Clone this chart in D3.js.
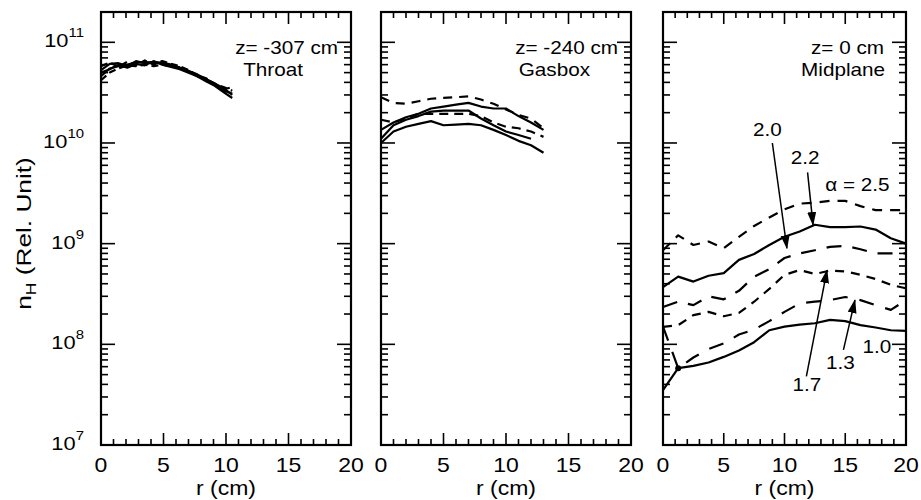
<!DOCTYPE html>
<html><head><meta charset="utf-8">
<script src="https://cdn.jsdelivr.net/npm/d3@7"></script>
<style>
body{margin:0;background:#fff}
svg{display:block}
text{font-family:"Liberation Sans",Arial,Helvetica,sans-serif;fill:#000}
</style>
</head><body>
<svg id="chart" width="921" height="500"></svg>
<script>
// ---------- DATA ----------
const xTickLabels = ["0","5","10","15","20"];
const yTickExponents = [7,8,9,10,11];
const panelTitles = [["z= -307 cm","Throat"],["z= -240 cm","Gasbox"],["z= 0 cm","Midplane"]];

// Throat (z = -307 cm)
const rThroat = [0,0.7,1.4,2.1,2.8,3.5,4.2,4.9,5.6,6.3,7.0,7.7,8.4,9.1,9.8,10.5];
const throatA = [4.6e10,5.5e10,5.8e10,6.0e10,6.3e10,6.4e10,6.2e10,6.3e10,6.0e10,5.6e10,5.2e10,4.8e10,4.3e10,3.9e10,3.5e10,3.0e10];
const throatB = [5.8e10,6.3e10,5.7e10,6.4e10,5.9e10,6.6e10,6.0e10,6.5e10,6.1e10,5.8e10,5.3e10,4.7e10,4.4e10,3.8e10,3.6e10,3.3e10];
const throatC = [5.0e10,5.4e10,6.0e10,5.6e10,6.1e10,5.9e10,6.5e10,6.0e10,5.7e10,5.4e10,5.0e10,4.6e10,4.1e10,3.7e10,3.2e10,2.8e10];
const throatD = [4.2e10,5.0e10,5.5e10,5.9e10,5.8e10,6.0e10,5.8e10,6.0e10,5.8e10,5.5e10,5.1e10,4.6e10,4.2e10,3.8e10,3.4e10,3.6e10];
const throatE = [5.3e10,6.1e10,6.2e10,5.8e10,6.5e10,6.2e10,6.4e10,6.2e10,5.9e10,5.6e10,5.2e10,4.7e10,4.3e10,3.9e10,3.3e10,3.1e10];

// Gasbox (z = -240 cm)
const rGas = [0,1,2,3,4,5,6,7,8,9,10,11,12,13];
const gasD1 = [2.85e10,2.5e10,2.45e10,2.6e10,2.75e10,2.8e10,2.85e10,2.9e10,2.7e10,2.45e10,2.15e10,1.9e10,1.75e10,1.4e10];
const gasS1 = [1.35e10,1.6e10,1.8e10,1.95e10,2.2e10,2.3e10,2.4e10,2.5e10,2.3e10,2.2e10,2.2e10,1.85e10,1.6e10,1.35e10];
const gasD2 = [1.7e10,1.6e10,1.75e10,1.95e10,1.95e10,1.95e10,1.95e10,1.95e10,1.85e10,1.6e10,1.45e10,1.4e10,1.3e10,1.15e10];
const gasS2 = [1.1e10,1.5e10,1.7e10,1.85e10,2.05e10,2.1e10,2.1e10,2.1e10,1.75e10,1.5e10,1.3e10,1.2e10,1.1e10];
const gasS3 = [1.0e10,1.3e10,1.45e10,1.55e10,1.65e10,1.5e10,1.52e10,1.55e10,1.5e10,1.35e10,1.2e10,1.05e10,0.95e10,0.8e10];

// Midplane (z = 0 cm), alpha curves
const rMid = [0,1.25,2.5,3.75,5,6.25,7.5,8.75,10,11.25,12.5,13.75,15,16.25,17.5,18.75,20];
const mid25 = [8.6e8,1.21e9,9.7e8,1.05e9,9.0e8,1.17e9,1.5e9,1.82e9,2.19e9,2.5e9,2.55e9,2.66e9,2.66e9,2.36e9,2.15e9,2.15e9,2.15e9];
const mid22 = [3.7e8,4.7e8,4.2e8,4.8e8,5.1e8,6.9e8,7.9e8,9.7e8,1.17e9,1.32e9,1.54e9,1.46e9,1.46e9,1.48e9,1.38e9,1.13e9,1.0e9];
const mid20 = [2.35e8,2.65e8,2.45e8,3.0e8,2.8e8,3.4e8,4.7e8,5.6e8,7.2e8,8.0e8,8.6e8,9.3e8,9.5e8,8.8e8,8.0e8,8.0e8,8.0e8];
const mid17 = [1.49e8,1.55e8,1.95e8,2.1e8,1.9e8,2.05e8,2.65e8,3.55e8,4.9e8,5.46e8,5.0e8,5.4e8,5.3e8,4.9e8,4.45e8,3.9e8,3.6e8];
const mid13 = [1.5e8,5.8e7,7.4e7,9.0e7,1.02e8,1.25e8,1.4e8,1.7e8,2.1e8,2.55e8,2.65e8,2.75e8,2.95e8,2.75e8,2.45e8,2.2e8,2.75e8];
const mid10 = [3.5e7,5.8e7,6.1e7,6.6e7,7.5e7,8.7e7,1.05e8,1.38e8,1.5e8,1.57e8,1.62e8,1.75e8,1.7e8,1.55e8,1.47e8,1.38e8,1.36e8];
const midDots = [[1.25,5.8e7]];

// annotations in data coords [r, n]
const annLabels = [
  {t:"2.0", r:8.6, v:1.34e10},
  {t:"2.2", r:11.7, v:7.06e9},
  {t:"\u03b1 = 2.5", r:16.0, v:3.8e9},
  {t:"1.7", r:11.85, v:3.9e7},
  {t:"1.3", r:14.6, v:6.5e7},
  {t:"1.0", r:17.6, v:9.5e7}
];
const annArrows = [
  {r1:9.0, v1:1.0e10, r2:10.2, v2:9.0e8},
  {r1:11.9, v1:5.1e9, r2:12.35, v2:1.53e9},
  {r1:11.8, v1:4.8e7, r2:13.5, v2:5.46e8},
  {r1:14.85, v1:8.8e7, r2:15.8, v2:2.75e8}
];

// ---------- LAYOUT ----------
const svg = d3.select("#chart");
const yTop = 12, yBot = 445;
const panels = [
  {x0:101, x1:351, title:panelTitles[0], t1x:338, t2x:303,
   series:[[rThroat,throatA,null],[rThroat,throatB,"7,4"],[rThroat,throatC,null],[rThroat,throatD,"7,4"],[rThroat,throatE,null]]},
  {x0:381, x1:631, title:panelTitles[1], t1x:618, t2x:590,
   series:[[rGas,gasD1,"9,7"],[rGas,gasS1,null],[rGas,gasD2,"9,6"],[rGas,gasS2,null],[rGas,gasS3,null]]},
  {x0:663, x1:906, title:panelTitles[2], t1x:884, t2x:885,
   series:[[rMid,mid25,"10,8"],[rMid,mid22,null],[rMid,mid20,"15,11"],[rMid,mid17,"9,7"],[rMid,mid13,"15,12"],[rMid,mid10,null]]}
];

const y = d3.scaleLog().domain([1e7, 2e11]).range([yBot, yTop]);
const SX = 1.15;

function stretchText(g, x, yy, str, size, anchor){
  return g.append("text")
    .attr("transform", `translate(${x},${yy}) scale(${SX},1)`)
    .attr("text-anchor", anchor || "start")
    .attr("font-size", size)
    .text(str);
}

svg.append("defs").append("marker")
  .attr("id","arr").attr("markerUnits","userSpaceOnUse")
  .attr("markerWidth",14).attr("markerHeight",10)
  .attr("refX",13).attr("refY",4.5).attr("orient","auto")
  .append("path").attr("d","M0,0 L14,4.5 L0,9 Z").attr("fill","#000");

const yTicks = [];
for (let e = 7; e <= 11; e++) for (let k = 1; k <= 9; k++) {
  const v = k * Math.pow(10, e);
  if (v > 1e7 && v < 2e11) yTicks.push({v, major: k === 1});
}

panels.forEach((p, i) => {
  const g = svg.append("g");
  const x = d3.scaleLinear().domain([0, 20]).range([p.x0, p.x1]);

  const line = d3.line().x(d => x(d[0])).y(d => y(d[1]));
  p.series.forEach(([rs, vs, dash]) => {
    g.append("path")
      .datum(vs.map((v, j) => [rs[j], v]))
      .attr("d", line)
      .attr("fill", "none").attr("stroke", "#000")
      .attr("stroke-width", 2.2)
      .attr("stroke-linejoin", "round")
      .attr("stroke-dasharray", dash);
  });

  g.append("rect").attr("x", p.x0).attr("y", yTop)
    .attr("width", p.x1 - p.x0).attr("height", yBot - yTop)
    .attr("fill", "none").attr("stroke", "#000").attr("stroke-width", 2.2);

  d3.range(1, 20).forEach(t => {
    const L = t % 5 === 0 ? 12 : 6;
    g.append("line").attr("x1", x(t)).attr("x2", x(t)).attr("y1", yBot).attr("y2", yBot - L)
      .attr("stroke", "#000").attr("stroke-width", 1.6);
    g.append("line").attr("x1", x(t)).attr("x2", x(t)).attr("y1", yTop).attr("y2", yTop + L)
      .attr("stroke", "#000").attr("stroke-width", 1.6);
  });
  yTicks.forEach(t => {
    const L = t.major ? 14 : 7;
    g.append("line").attr("x1", p.x0).attr("x2", p.x0 + L).attr("y1", y(t.v)).attr("y2", y(t.v))
      .attr("stroke", "#000").attr("stroke-width", 1.6);
    g.append("line").attr("x1", p.x1).attr("x2", p.x1 - L).attr("y1", y(t.v)).attr("y2", y(t.v))
      .attr("stroke", "#000").attr("stroke-width", 1.6);
  });

  xTickLabels.forEach(s => stretchText(g, x(+s), 472, s, 20, "middle"));
  stretchText(g, (p.x0 + p.x1) / 2, 495, "r (cm)", 20, "middle");

  stretchText(g, p.t1x, 54, p.title[0], 18, "end");
  stretchText(g, p.t2x, 76, p.title[1], 18, "end");

  if (i === 0) {
    yTickExponents.forEach(e => {
      const t = g.append("text")
        .attr("transform", `translate(84,${y(Math.pow(10, e)) + 5}) scale(${SX},1)`)
        .attr("text-anchor", "end").attr("font-size", 19);
      t.append("tspan").text("10");
      t.append("tspan").attr("font-size", 13).attr("dy", -10).text(String(e));
    });
    const yl = svg.append("text")
      .attr("transform", `translate(31,${(yTop + yBot) / 2 + 5}) rotate(-90) scale(1.25,1)`)
      .attr("text-anchor", "middle").attr("font-size", 21);
    yl.append("tspan").text("n");
    yl.append("tspan").attr("font-size", 14).attr("dy", 5).text("H");
    yl.append("tspan").attr("dy", -5).text(" (Rel. Unit)");
  }

  if (i === 2) {
    g.selectAll("circle.dot").data(midDots).enter().append("circle")
      .attr("cx", d => x(d[0])).attr("cy", d => y(d[1])).attr("r", 3).attr("fill", "#000");
    annArrows.forEach(a => {
      g.append("line").attr("x1", x(a.r1)).attr("y1", y(a.v1))
        .attr("x2", x(a.r2)).attr("y2", y(a.v2))
        .attr("stroke", "#000").attr("stroke-width", 1.5)
        .attr("marker-end", "url(#arr)");
    });
    annLabels.forEach(a => stretchText(g, x(a.r), y(a.v) + 6, a.t, 18, "middle"));
  }
});
</script>
</body></html>
